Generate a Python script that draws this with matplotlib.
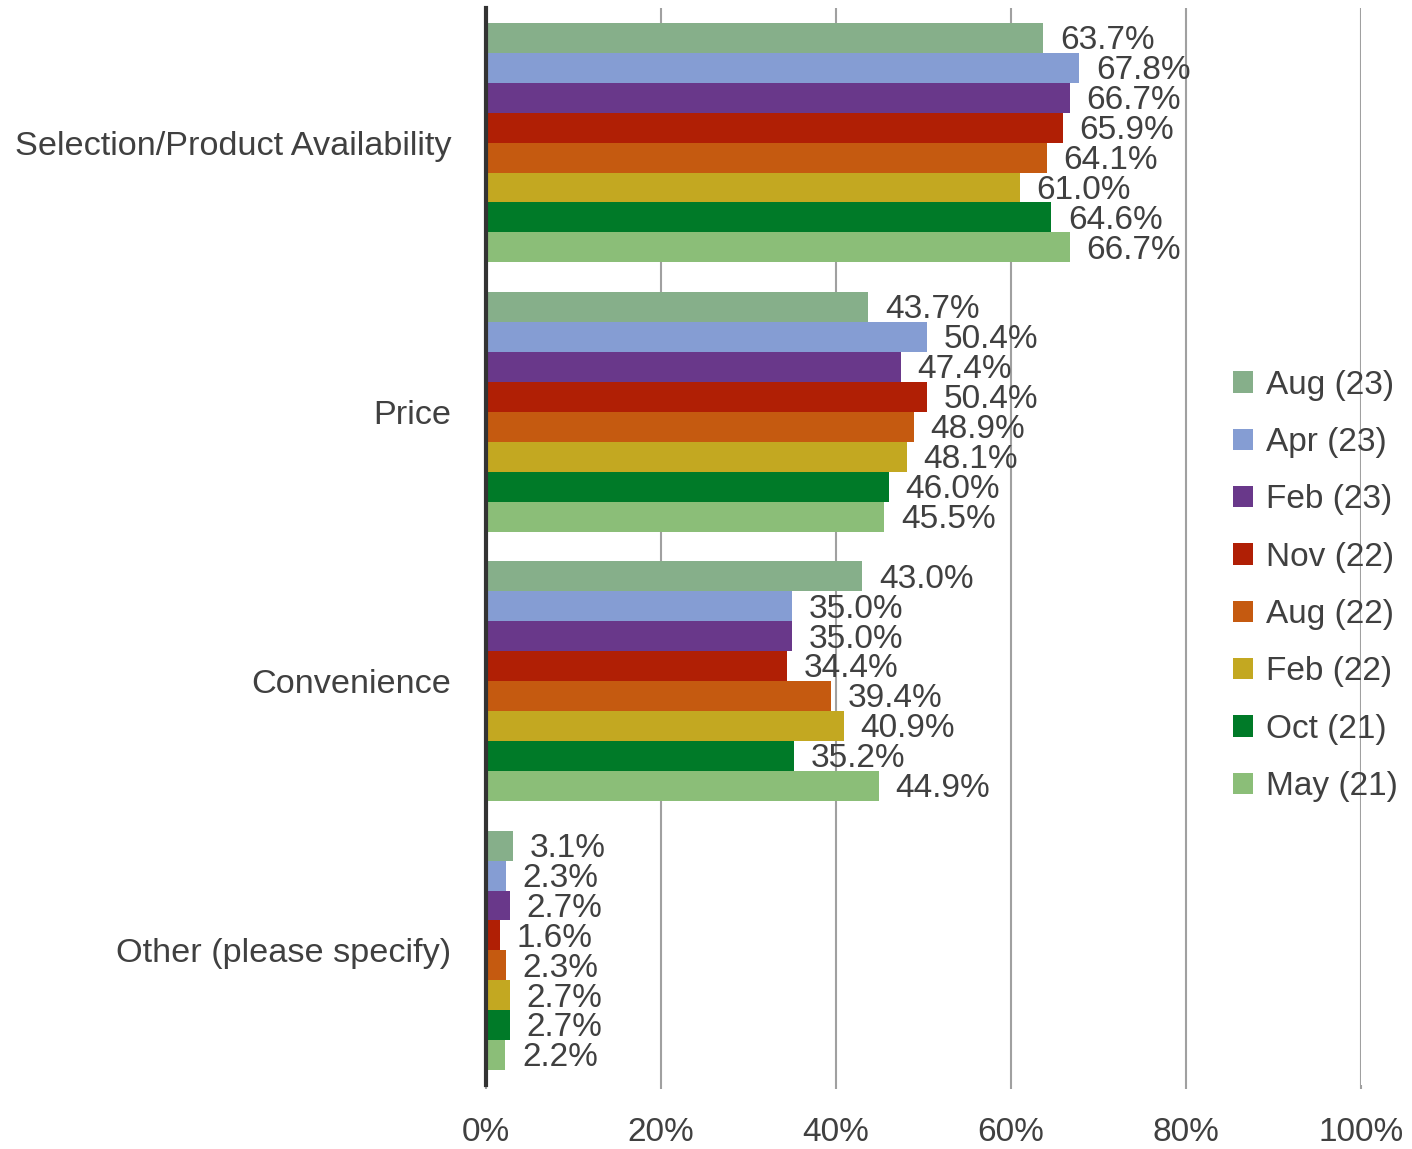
import matplotlib.pyplot as plt
import numpy as np
from matplotlib.patches import Patch

plt.rcParams['font.family'] = ['Liberation Sans', 'DejaVu Sans']

# Data
categories = ["Selection/Product Availability", "Price", "Convenience", "Other (please specify)"]
series = ["Aug (23)", "Apr (23)", "Feb (23)", "Nov (22)", "Aug (22)", "Feb (22)", "Oct (21)", "May (21)"]
values = {
    "Aug (23)": [63.7, 43.7, 43.0, 3.1],
    "Apr (23)": [67.8, 50.4, 35.0, 2.3],
    "Feb (23)": [66.7, 47.4, 35.0, 2.7],
    "Nov (22)": [65.9, 50.4, 34.4, 1.6],
    "Aug (22)": [64.1, 48.9, 39.4, 2.3],
    "Feb (22)": [61.0, 48.1, 40.9, 2.7],
    "Oct (21)": [64.6, 46.0, 35.2, 2.7],
    "May (21)": [66.7, 45.5, 44.9, 2.2],
}
colors = ["#86AF8A", "#859DD3", "#69388A", "#B01F05", "#C55A10", "#C3A821", "#007A28", "#8BBE78"]

text_col = "#404040"
fs = 24

fig = plt.figure(figsize=(14.12, 11.49), dpi=100)
ax = fig.add_axes([0.3442, 0.0557, 0.6197, 0.9373])

y = np.arange(len(categories))
h = 1 / 9
for i, s in enumerate(series):
    bars = ax.barh(y + (i - 3.5) * h, values[s], height=h, color=colors[i], zorder=3)
    labels = ax.bar_label(bars, labels=[f"{v:.1f}%" for v in values[s]], padding=12,
                          fontsize=fs, color=text_col, zorder=4)
    for t in labels:
        t.xyann = (12, -2)

ax.set_xlim(0, 100)
ax.set_ylim(3.5, -0.5)
ax.set_xticks([0, 20, 40, 60, 80, 100])
ax.set_xticklabels([f"{t}%" for t in [0, 20, 40, 60, 80, 100]], fontsize=fs, color=text_col)
ax.set_yticks(y)
ax.set_yticklabels(categories, fontsize=24.7, color=text_col)
ax.tick_params(axis='y', length=0, pad=25)
ax.tick_params(axis='x', length=3, width=1.5, color="#A0A0A0", pad=20)
ax.grid(axis='x', color="#A0A0A0", linewidth=1.5, zorder=0)
for sp in ["top", "right", "bottom"]:
    ax.spines[sp].set_visible(False)
ax.spines["left"].set_color("#333333")
ax.spines["left"].set_linewidth(3)
ax.spines["left"].set_zorder(5)

handles = [Patch(facecolor=c) for c in colors]
leg = fig.legend(handles, series, loc="center left", bbox_to_anchor=(0.8635, 0.490),
                 frameon=False, fontsize=fs, handlelength=0.6, handleheight=0.6,
                 handletextpad=0.4, labelspacing=0.79, borderaxespad=0)
for t in leg.get_texts():
    t.set_color(text_col)

fig.savefig("out.png", dpi=100)
